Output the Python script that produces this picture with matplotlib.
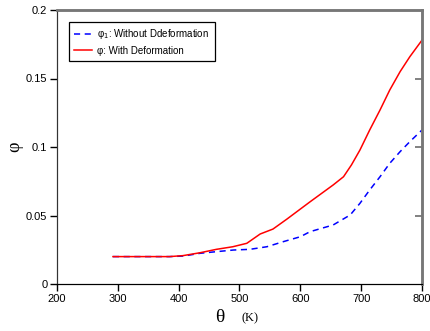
import matplotlib
matplotlib.use("Agg")
import matplotlib.pyplot as plt

plt.rcParams['font.family'] = ['Liberation Sans', 'DejaVu Sans']

## red curve: with deformation
temp_def = [292, 330, 385, 407, 435, 462, 489, 512, 534, 555, 578, 600, 616,
            654, 671, 684, 698, 714, 731, 747, 764, 780, 800]
phi_def = [0.020, 0.020, 0.020, 0.0207, 0.0228, 0.0253, 0.0272, 0.0297, 0.0365,
           0.0401, 0.0474, 0.0547, 0.060, 0.0723, 0.0783, 0.0869, 0.0978, 0.1124,
           0.127, 0.1416, 0.155, 0.1659, 0.178]

## blue curve: without deformation
temp_nodef = [292, 330, 385, 408, 435, 462, 490, 517, 545, 572, 600, 616, 654,
              682, 698, 714, 731, 747, 764, 780, 800]
phi_nodef = [0.020, 0.020, 0.020, 0.0204, 0.0224, 0.0236, 0.0248, 0.0253, 0.0272,
             0.0309, 0.0345, 0.0382, 0.0431, 0.0504, 0.0589, 0.0686, 0.0783, 0.0881,
             0.0966, 0.1039, 0.1124]

x_ticks = [200, 300, 400, 500, 600, 700, 800]
y_ticks = [0, 0.05, 0.1, 0.15, 0.2]
y_tick_labels = ["0", "0.05", "0.1", "0.15", "0.2"]

fig = plt.figure(figsize=(4.31, 3.31), dpi=100)
ax = fig.add_axes([57/431, 47/331, 365/431, 274/331])

ax.plot(temp_nodef, phi_nodef, c="blue", ls=(0, (4, 3)), lw=1.1,
        label="\u03c6$_1$: Without Ddeformation")
ax.plot(temp_def, phi_def, c="red", lw=1.1, label="\u03c6: With Deformation")

ax.set_xlim(200, 800)
ax.set_ylim(0, 0.2)
ax.set_xticks(x_ticks)
ax.set_yticks(y_ticks)
ax.set_yticklabels(y_tick_labels)
ax.tick_params(axis="both", labelsize=8, direction="out", length=5, width=1, pad=2)

## right side has inward ticks, no labels
ax2 = ax.twinx()
ax2.set_ylim(0, 0.2)
ax2.set_yticks([0.05, 0.1, 0.15])
ax2.tick_params(axis="y", direction="in", length=5, width=1.3, colors="#777777",
                labelright=False)

for a in (ax, ax2):
    a.spines["top"].set_color("#777777")
    a.spines["top"].set_linewidth(1.8)
    a.spines["right"].set_color("#777777")
    a.spines["right"].set_linewidth(1.8)
    a.spines["left"].set_color("#333333")
    a.spines["bottom"].set_color("black")

leg = ax.legend(loc="upper left", bbox_to_anchor=(0.032, 0.957), fontsize=7,
                fancybox=False, edgecolor="black", framealpha=1,
                borderaxespad=0, handlelength=1.8, handletextpad=0.6,
                borderpad=0.55, labelspacing=0.45)
leg.get_frame().set_linewidth(0.9)

## axis labels in serif font
fig.text(15/431, 1 - 147/331, "\u03c6", fontsize=13, family="Liberation Serif",
         ha="center", va="center", rotation=90)
fig.text(220/431, 1 - 318/331, "\u03b8", fontsize=14, family="Liberation Serif",
         ha="center", va="center")
fig.text(250/431, 1 - 318/331, "(K)", fontsize=9, family="Liberation Serif",
         ha="center", va="center")

fig.savefig("out.png", dpi=100)
